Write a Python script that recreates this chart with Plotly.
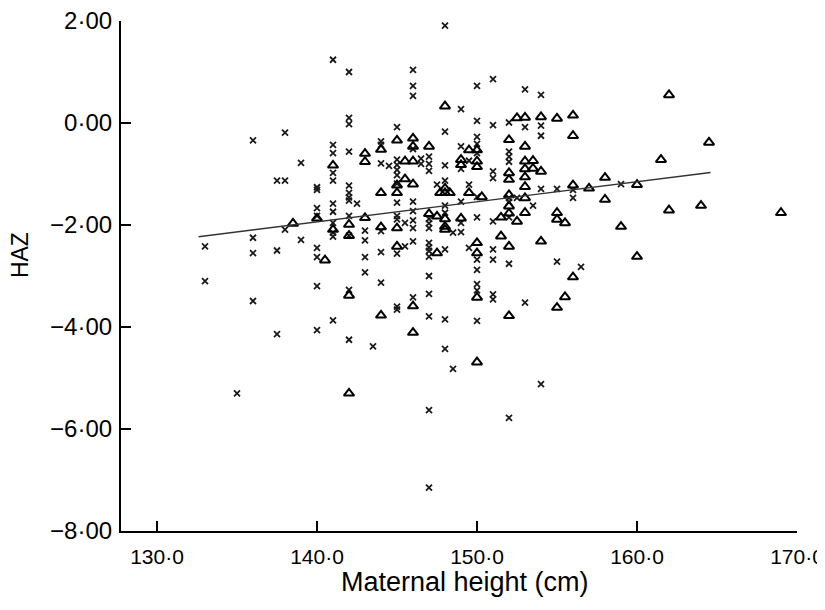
import plotly.graph_objects as go

# Maternal height (cm) and HAZ, group 1 (crosses)
cross_height = [
    133, 133, 135, 136, 136, 136, 136, 137.5, 137.5, 137.5, 138, 138, 138, 139, 139,
    140, 140, 140, 140, 140, 140, 140, 140,
    141, 141, 141, 141, 141, 141, 141, 141, 141, 141, 141,
    142, 142, 142, 142, 142, 142, 142, 142, 142, 142, 142, 142, 142.5,
    143, 143, 143, 143, 143.5,
    144, 144, 144, 144, 144, 144, 144.5,
    145, 145, 145, 145, 145, 145, 145, 145, 145, 145, 145, 145, 145.5, 145.5,
    146, 146, 146, 146, 146, 146, 146, 146, 146, 146, 146.5, 146.5,
    147, 147, 147, 147, 147, 147, 147, 147, 147, 147, 147, 147, 147, 147, 147, 147.5,
    148, 148, 148, 148, 148, 148, 148, 148, 148, 148.5, 148.5,
    149, 149, 149, 149, 149, 149, 149.5, 149.5, 149.5,
    150, 150, 150, 150, 150, 150, 150, 150, 150, 150, 150, 150,
    151, 151, 151, 151, 151, 151, 151, 151, 151,
    152, 152, 152, 152, 152, 152, 152, 152, 152, 152.5,
    153, 153, 153, 153.5, 154, 154, 154, 154, 154, 155, 155, 156, 156, 156.5, 159,
]
cross_haz = [
    -2.42, -3.10, -5.30, -0.34, -2.25, -2.55, -3.49, -1.13, -2.50, -4.14, -0.19, -1.13, -2.09, -0.78, -2.29,
    -1.26, -1.31, -1.67, -1.82, -2.45, -2.63, -3.20, -4.06,
    1.24, -0.43, -0.59, -0.98, -1.13, -1.58, -1.74, -1.96, -2.15, -2.23, -3.87,
    1.00, 0.10, -0.02, -0.56, -1.23, -1.37, -1.46, -1.52, -1.82, -2.21, -3.27, -4.25, -1.58,
    -2.11, -2.30, -2.63, -2.93, -4.38,
    -0.36, -0.43, -0.79, -2.12, -2.53, -3.13, -0.84,
    -0.08, -0.72, -0.82, -0.92, -1.02, -1.19, -1.56, -1.82, -1.89, -2.56, -3.60, -3.66, -1.96, -2.42,
    1.04, 0.73, 0.53, -0.51, -1.54, -1.73, -1.91, -2.06, -2.32, -3.42, -0.70, -0.80,
    -0.66, -0.80, -0.94, -1.88, -1.97, -2.06, -2.35, -2.44, -2.51, -2.62, -3.00, -3.35, -3.79, -5.63, -7.15, -1.21,
    1.91, -0.17, -0.83, -1.13, -1.62, -1.76, -2.48, -3.85, -4.43, -2.15, -4.82,
    0.27, -0.46, -0.90, -1.54, -1.96, -2.14, -0.74, -1.21, -2.45,
    0.73, 0.04, -0.27, -0.41, -0.59, -1.45, -1.85, -2.68, -2.88, -3.16, -3.28, -3.88,
    0.86, -0.04, -0.95, -1.08, -1.93, -2.48, -2.68, -3.36, -3.46,
    0.01, -0.56, -0.66, -0.76, -1.47, -1.55, -1.85, -2.76, -5.78, -1.47,
    0.66, -0.08, -3.52, -1.62, 0.55, -0.05, -0.25, -1.29, -5.12, -1.29, -2.72, -1.31, -1.47, -2.82, -1.20,
]

# group 2 (open triangles)
tri_height = [
    138.5, 140, 140.5, 141, 141, 142, 142, 142, 142, 143, 143, 143,
    144, 144, 144, 144, 145, 145, 145, 145, 145, 145.5, 145.5,
    146, 146, 146, 146, 146, 146, 147, 147, 147.5, 147.5,
    147.7, 148, 148, 148.3, 148, 148, 148, 148,
    149, 149, 149, 149.5, 149.5,
    150, 150, 150, 150.3, 150, 150, 150, 150,
    151.5, 151.5, 152, 152, 152, 152, 152, 152, 152, 152, 152.5, 152.5,
    153, 153, 153, 153, 153, 153, 153, 153, 153.5, 153.5,
    154, 154, 154, 155, 155, 155, 155, 155.5, 155.5, 156, 156, 156, 156,
    157, 158, 158, 159, 160, 160, 161.5, 162, 162, 164, 164.5, 169,
]
tri_haz = [
    -1.97, -1.87, -2.69, -0.83, -2.09, -1.99, -2.21, -3.38, -5.30, -0.60, -0.76, -1.86,
    -0.52, -1.37, -2.04, -3.77, -0.34, -1.22, -1.37, -2.06, -2.42, -0.75, -1.10,
    -0.30, -0.46, -0.75, -1.20, -3.59, -4.11, -0.46, -1.78, -1.83, -2.55,
    -1.37, -1.28, -1.37, -1.37, 0.33, -1.88, -2.03, -2.09,
    -0.72, -0.82, -1.87, -0.53, -1.37,
    -0.53, -0.75, -0.86, -1.45, -2.35, -2.55, -3.42, -4.69,
    -1.85, -2.22, -0.33, -0.98, -1.11, -1.41, -1.63, -1.77, -2.42, -3.78, 0.10, -1.93,
    0.11, -0.46, -0.75, -0.90, -1.06, -1.25, -1.47, -1.76, -0.74, -0.89,
    0.12, -0.95, -2.32, 0.09, -1.76, -1.89, -3.62, -1.96, -3.41, 0.15, -0.25, -1.22, -3.02,
    -1.28, -1.07, -1.50, -2.03, -1.21, -2.62, -0.72, 0.55, -1.71, -1.62, -0.38, -1.76,
]

# regression line end points
fit_height = [132.6, 164.6]
fit_haz = [-2.23, -0.97]

x_ticks = [130, 140, 150, 160, 170]
x_tick_labels = ["130·0", "140·0", "150·0", "160·0", "170·0"]
y_ticks = [2, 0, -2, -4, -6, -8]
y_tick_labels = ["2·00", "0·00", "−2·00", "−4·00", "−6·00", "−8·00"]

fig = go.Figure()
fig.add_trace(go.Scatter(
    x=cross_height, y=cross_haz, mode="markers",
    marker=dict(symbol="x-thin-open", size=6, color="#1a1a1a",
                line=dict(width=1.8, color="#1a1a1a")),
    showlegend=False,
))
fig.add_trace(go.Scatter(
    x=tri_height, y=tri_haz, mode="markers",
    marker=dict(symbol="triangle-up-open", size=9, color="#000000",
                line=dict(width=2, color="#000000")),
    showlegend=False,
))
fig.add_trace(go.Scatter(
    x=fit_height, y=fit_haz, mode="lines",
    line=dict(color="#333333", width=1.4),
    showlegend=False,
))

font_family = "Liberation Sans, Arial, sans-serif"
fig.update_layout(
    width=817, height=600,
    margin=dict(l=113, r=28, t=13, b=77),
    paper_bgcolor="white", plot_bgcolor="white",
    font=dict(family=font_family, size=23, color="black"),
)
fig.update_xaxes(
    range=[127.75, 170], tickvals=x_ticks, ticktext=x_tick_labels,
    tickfont=dict(size=21), ticklabeloverflow="allow", automargin=False,
    showline=True, linecolor="black", linewidth=2.2,
    ticks="inside", ticklen=10, tickwidth=1.6, tickcolor="black",
    showgrid=False, zeroline=False, ticklabelstandoff=6,
)
fig.update_yaxes(
    range=[-8, 2], tickvals=y_ticks, ticktext=y_tick_labels,
    tickfont=dict(size=24), ticklabeloverflow="allow", automargin=False,
    showline=True, linecolor="black", linewidth=2.2,
    ticks="inside", ticklen=10, tickwidth=1.6, tickcolor="black",
    showgrid=False, zeroline=False, ticklabelstandoff=2,
)
fig.add_annotation(
    text="Maternal height (cm)", xref="paper", yref="paper", x=0.509, y=0,
    yshift=-51, xanchor="center", yanchor="middle",
    showarrow=False, font=dict(size=27),
)
fig.add_annotation(
    text="HAZ", xref="paper", yref="paper", x=0, y=0.541,
    xshift=-101, xanchor="center", yanchor="middle", textangle=-90,
    showarrow=False, font=dict(size=23),
)
fig.write_html("out.html")
